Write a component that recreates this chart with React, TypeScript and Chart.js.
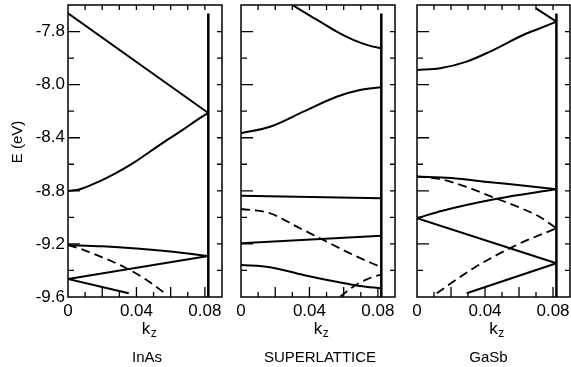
import React, { useEffect, useRef } from "react";
import { Chart, registerables } from "chart.js";

Chart.register(...registerables);

// ---------- axes ----------
const xMin = 0;
const xMax = 0.09;
const yMin = -9.6;
const yMax = -7.4;
const xTickValues = [0, 0.04, 0.08];
const xTickLabels = ["0", "0.04", "0.08"];
const yTickValues = [-9.6, -9.2, -8.8, -8.4, -8.0, -7.6];
const yTickLabels = ["-9.6", "-9.2", "-8.8", "-8.4", "-8.0", "-7.8"];
const xMinorTicks = [0.01, 0.02, 0.03, 0.04, 0.05, 0.06, 0.07, 0.08];
const yMinorTicks = [-9.4, -9.2, -9.0, -8.8, -8.6, -8.4, -8.2, -8.0, -7.8, -7.6];

const panelNames = ["InAs", "SUPERLATTICE", "GaSb"];
const xTitleMain = "k";
const xTitleSub = "z";
const yTitle = "E (eV)";

// zone edge line (k, E)
const zoneEdge = [[0.082, -7.464], [0.082, -9.6]];

// ---------- InAs bands (k, E) ----------
const inasBand1 = [[0, -7.463], [0.082, -8.214]];
const inasBand2 = [[0, -8.8], [0.007, -8.788], [0.018, -8.731], [0.028, -8.667], [0.038, -8.592], [0.048, -8.504], [0.058, -8.416], [0.067, -8.341], [0.077, -8.252], [0.082, -8.214]];
const inasBand3 = [[0, -9.208], [0.02, -9.218], [0.04, -9.235], [0.06, -9.258], [0.082, -9.291]];
const inasBand4 = [[0, -9.464], [0.082, -9.291]];
const inasBand5Dashed = [[0, -9.208], [0.009, -9.245], [0.018, -9.29], [0.033, -9.376], [0.046, -9.472], [0.058, -9.585]];
const inasBand6 = [[0, -9.464], [0.0355, -9.572]];

// ---------- Superlattice bands ----------
const slBand1 = [[0.026, -7.36], [0.031, -7.407], [0.0462, -7.525], [0.0559, -7.601], [0.0656, -7.663], [0.0754, -7.708], [0.082, -7.726]];
const slBand2 = [[0, -8.366], [0.017, -8.317], [0.0364, -8.204], [0.0559, -8.091], [0.0695, -8.04], [0.082, -8.02]];
const slBand3 = [[0, -8.837], [0.082, -8.856]];
const slBand4Dashed = [[0, -8.937], [0.017, -8.969], [0.0326, -9.07], [0.0481, -9.17], [0.0656, -9.283], [0.082, -9.376]];
const slBand5 = [[0, -9.195], [0.082, -9.138]];
const slBand6 = [[0, -9.359], [0.017, -9.376], [0.0364, -9.434], [0.0559, -9.485], [0.0695, -9.517], [0.082, -9.534]];
const slBand7Dashed = [[0.0579, -9.598], [0.0656, -9.522], [0.0735, -9.467], [0.082, -9.429]];

// ---------- GaSb bands ----------
const gasbBand1 = [[0, -7.889], [0.0135, -7.877], [0.0292, -7.827], [0.0429, -7.751], [0.0625, -7.626], [0.0724, -7.575], [0.082, -7.525]];
const gasbBand2 = [[0.07, -7.425], [0.082, -7.525]];
const gasbBand3 = [[0, -8.693], [0.02, -8.704], [0.043, -8.735], [0.062, -8.76], [0.082, -8.788]];
const gasbBand4Dashed = [[0, -8.693], [0.013, -8.71], [0.029, -8.77], [0.043, -8.84], [0.062, -8.935], [0.072, -8.995], [0.082, -9.082]];
const gasbBand5 = [[0, -9.006], [0.015, -8.95], [0.047, -8.86], [0.082, -8.788]];
const gasbBand6 = [[0, -9.006], [0.082, -9.346]];
const gasbBand7Dashed = [[0.0116, -9.572], [0.033, -9.385], [0.0586, -9.208], [0.082, -9.082]];
const gasbBand8 = [[0.0292, -9.572], [0.082, -9.346]];

// ---------- layout (pixels) ----------
const W = 571;
const H = 367;
const PLOT_TOP = 5;
const PLOT_BOTTOM = 297;
const FONT = "'Liberation Sans', Arial, Helvetica, sans-serif";

type Curve = { pts: number[][]; dashed?: boolean };

const panels: { left: number; right: number; yLabels: boolean; curves: Curve[]; nameDx: number; kDx: number }[] = [
  {
    left: 68, right: 222, yLabels: true, nameDx: 2, kDx: 4,
    curves: [
      { pts: inasBand1 }, { pts: inasBand2 }, { pts: inasBand3 }, { pts: inasBand4 },
      { pts: inasBand5Dashed, dashed: true }, { pts: inasBand6 },
    ],
  },
  {
    left: 241, right: 395, yLabels: false, nameDx: 2, kDx: 3,
    curves: [
      { pts: slBand1 }, { pts: slBand2 }, { pts: slBand3 }, { pts: slBand4Dashed, dashed: true },
      { pts: slBand5 }, { pts: slBand6 }, { pts: slBand7Dashed, dashed: true },
    ],
  },
  {
    left: 417, right: 570, yLabels: false, nameDx: -5, kDx: 3,
    curves: [
      { pts: gasbBand1 }, { pts: gasbBand2 }, { pts: gasbBand3 }, { pts: gasbBand4Dashed, dashed: true },
      { pts: gasbBand5 }, { pts: gasbBand6 }, { pts: gasbBand7Dashed, dashed: true }, { pts: gasbBand8 },
    ],
  },
];

function makeFramePlugin(idx: number) {
  return {
    id: "frame" + idx,
    afterDraw(chart: any) {
      const { ctx, chartArea, scales } = chart;
      const { left, right, top, bottom } = chartArea;
      const x = scales.x;
      const y = scales.y;
      const p = panels[idx];
      ctx.save();
      ctx.strokeStyle = "#000";
      ctx.lineWidth = 1.5;
      ctx.strokeRect(left, top, right - left, bottom - top);
      ctx.lineWidth = 1.3;
      ctx.beginPath();
      yMinorTicks.forEach((v) => {
        const py = y.getPixelForValue(v);
        const major = yTickValues.some((t) => Math.abs(t - v) < 1e-6);
        ctx.moveTo(left, py);
        ctx.lineTo(left + (major ? 12 : 6), py);
        ctx.moveTo(right, py);
        ctx.lineTo(right - 5, py);
      });
      xMinorTicks.forEach((v) => {
        const px = x.getPixelForValue(v);
        const even = Math.round(v * 100) % 2 === 0;
        ctx.moveTo(px, bottom);
        ctx.lineTo(px, bottom - (even ? 10 : 5));
        ctx.moveTo(px, top);
        ctx.lineTo(px, top + 5);
      });
      ctx.stroke();

      ctx.fillStyle = "#000";
      const cx = (left + right) / 2;
      // k_z title
      ctx.font = `17px ${FONT}`;
      const wk = ctx.measureText(xTitleMain).width;
      ctx.font = `12px ${FONT}`;
      const wz = ctx.measureText(xTitleSub).width;
      const sx = cx + p.kDx - (wk + wz) / 2;
      ctx.textAlign = "left";
      ctx.textBaseline = "alphabetic";
      ctx.font = `17px ${FONT}`;
      ctx.fillText(xTitleMain, sx, 334);
      ctx.font = `12px ${FONT}`;
      ctx.fillText(xTitleSub, sx + wk + 0.5, 337);
      // panel name
      ctx.font = `15px ${FONT}`;
      ctx.textAlign = "center";
      ctx.fillText(panelNames[idx], cx + p.nameDx, 362);
      // y title
      if (p.yLabels) {
        ctx.translate(18, 142);
        ctx.rotate(-Math.PI / 2);
        ctx.textBaseline = "middle";
        ctx.fillText(yTitle, 0, 0);
      }
      ctx.restore();
    },
  };
}

function Panel({ idx }: { idx: number }) {
  const ref = useRef<HTMLCanvasElement | null>(null);
  useEffect(() => {
    const p = panels[idx];
    const toXY = (pts: number[][]) => pts.map(([k, e]) => ({ x: k, y: e }));
    const datasets: any[] = p.curves.map((c) => ({
      data: toXY(c.pts),
      borderColor: "#000",
      borderWidth: c.dashed ? 1.8 : 2,
      borderDash: c.dashed ? [9, 5] : [],
      pointRadius: 0,
      fill: false,
      cubicInterpolationMode: c.pts.length > 2 ? "monotone" : "default",
      tension: 0,
    }));
    datasets.push({
      data: toXY(zoneEdge),
      borderColor: "#000",
      borderWidth: 2.5,
      pointRadius: 0,
      fill: false,
      tension: 0,
    });
    const chart = new Chart(ref.current as HTMLCanvasElement, {
      type: "line",
      data: { datasets },
      options: {
        responsive: false,
        animation: false,
        events: [],
        layout: {
          padding: {
            left: p.yLabels ? 0 : p.left,
            right: W - p.right,
            top: PLOT_TOP,
            bottom: 0,
          },
        },
        plugins: { legend: { display: false }, tooltip: { enabled: false } },
        scales: {
          x: {
            type: "linear",
            min: xMin,
            max: xMax,
            border: { display: false },
            grid: { display: false, drawTicks: false },
            afterBuildTicks: (s: any) => {
              s.ticks = xTickValues.map((v) => ({ value: v }));
            },
            afterFit: (s: any) => {
              s.height = H - PLOT_BOTTOM;
              s.paddingLeft = 0;
              s.paddingRight = 0;
            },
            ticks: {
              autoSkip: false,
              maxRotation: 0,
              padding: 4,
              color: "#000",
              font: { family: FONT, size: 17 },
              callback: (_v: any, i: number) => xTickLabels[i],
            },
          },
          y: {
            type: "linear",
            min: yMin,
            max: yMax,
            border: { display: false },
            grid: { display: false, drawTicks: false },
            afterBuildTicks: (s: any) => {
              s.ticks = yTickValues.map((v) => ({ value: v }));
            },
            afterFit: (s: any) => {
              s.width = p.yLabels ? p.left : 0;
              s.paddingTop = 0;
              s.paddingBottom = 0;
            },
            ticks: {
              display: p.yLabels,
              autoSkip: false,
              padding: 3,
              color: "#000",
              font: { family: FONT, size: 17 },
              callback: (_v: any, i: number) => yTickLabels[i],
            },
          },
        },
      } as any,
      plugins: [makeFramePlugin(idx)],
    });
    return () => chart.destroy();
  }, [idx]);
  return (
    <canvas
      ref={ref}
      width={W}
      height={H}
      style={{ position: "absolute", left: 0, top: 0, width: W, height: H }}
    />
  );
}

export default function App() {
  return (
    <div style={{ position: "absolute", left: 0, top: 0, width: W, height: H, background: "#fff" }}>
      {panels.map((_, i) => (
        <Panel key={i} idx={i} />
      ))}
    </div>
  );
}
